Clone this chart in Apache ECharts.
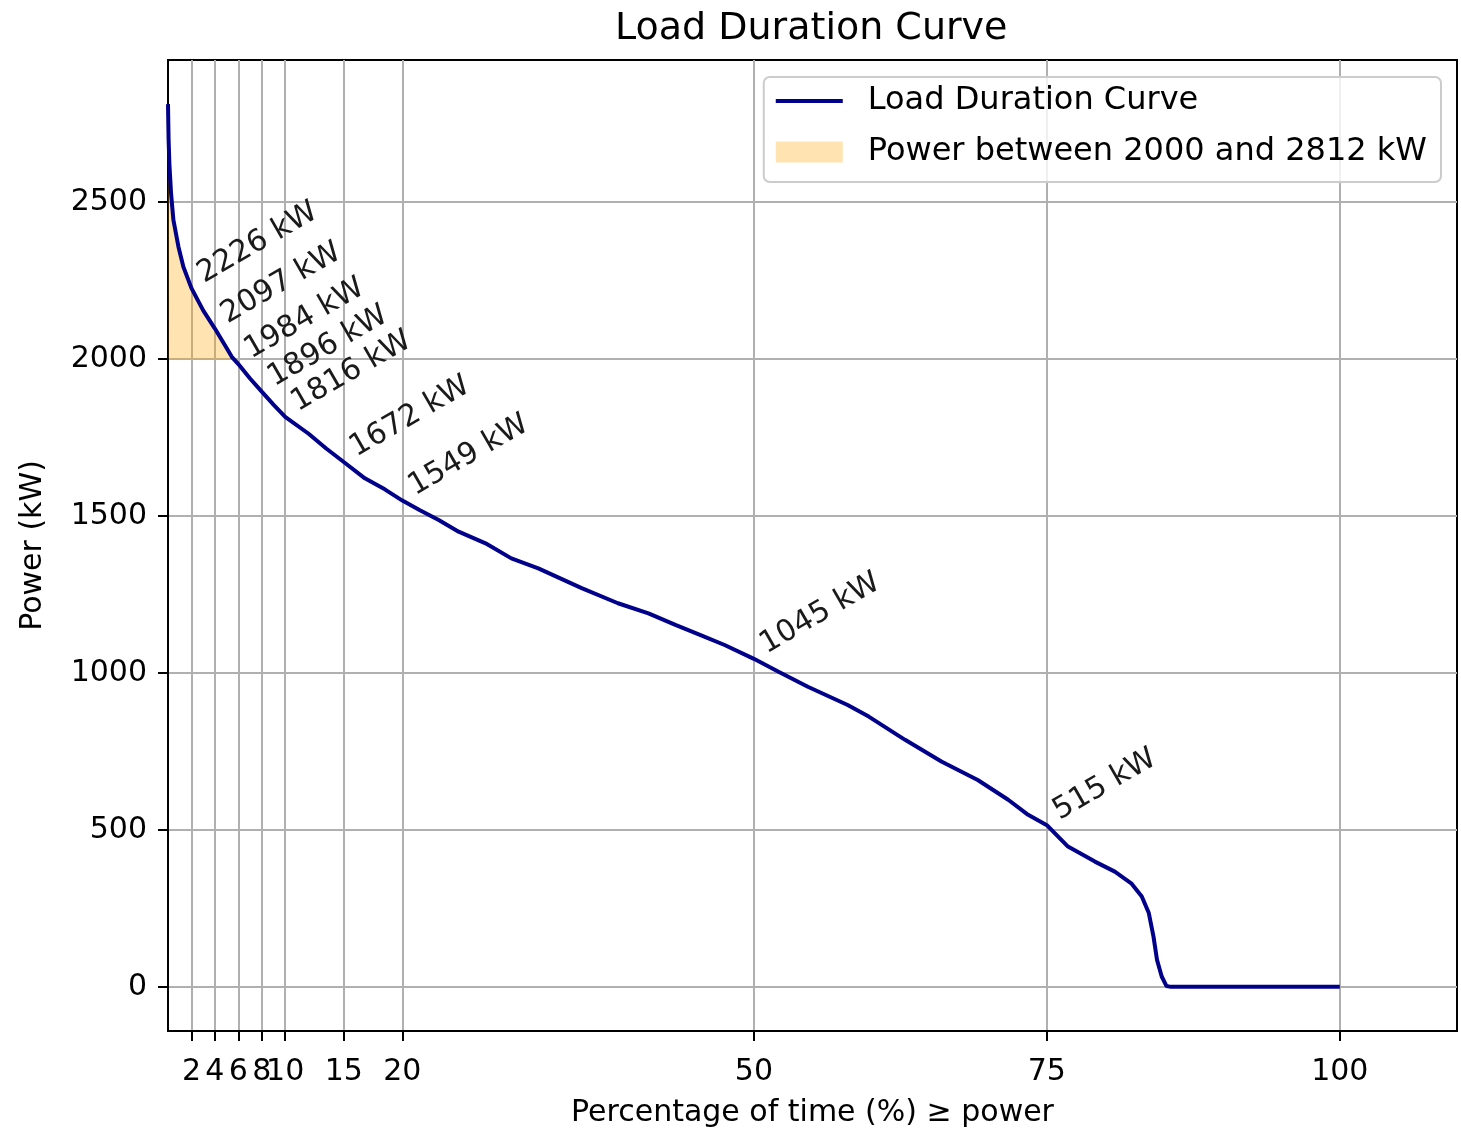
<!DOCTYPE html>
<html>
<head>
<meta charset="utf-8">
<title>Load Duration Curve</title>
<script src="https://cdn.jsdelivr.net/npm/echarts@6/dist/echarts.min.js"></script>
<style>
  html, body { margin: 0; padding: 0; background: #fff; }
  #main { width: 1461px; height: 1132px; }
</style>
</head>
<body>
<div id="main"></div>
<script>
// share of time (%) that the load is at or above the power value
const pctTime = [0, 0.05, 0.12, 0.26, 0.46, 0.89, 1.31, 2, 3, 4, 5, 5.44, 6, 7, 8, 9, 10, 12, 13.5, 15,
  16.8, 18.5, 20, 21.5, 23.1, 24.8, 27.1, 29.3, 31.6, 35.3, 38.4, 41, 43.3, 45.5, 47.5, 50, 52.1, 54.6, 58, 59.8,
  62.9, 66, 69.1, 71.7, 73.4, 75, 76.8, 79.1, 80.8, 82.2, 83.1, 83.7, 84.1, 84.4, 84.8, 85.2, 85.6, 100];
const powerKW = [2812, 2700, 2620, 2528, 2443, 2358, 2294, 2226, 2155, 2097, 2035, 2007, 1984, 1938, 1896, 1855, 1816, 1762, 1715, 1672,
  1620, 1585, 1549, 1518, 1487, 1450, 1413, 1365, 1333, 1270, 1222, 1190, 1153, 1120, 1089, 1045, 1004, 956, 898, 861,
  787, 718, 659, 596, 548, 515, 447, 399, 367, 330, 288, 235, 160, 86, 33, 3, 0, 0];

// annotated points
const annotPct = [2, 4, 6, 8, 10, 15, 20, 50, 75];
const annotKW = [2226, 2097, 1984, 1896, 1816, 1672, 1549, 1045, 515];

const xTicks = [2, 4, 6, 8, 10, 15, 20, 50, 75, 100];
const yTicks = [0, 500, 1000, 1500, 2000, 2500];

const fillLow = 2000;
const fillHigh = 2812;

const FONT = 'DejaVu Sans';
const curveName = 'Load Duration Curve';
const fillName = 'Power between ' + fillLow + ' and ' + fillHigh + ' kW';

let curveData = pctTime.map((x, i) => [x, powerKW[i]]);
let fillData = curveData.filter(p => p[1] >= fillLow);
let annotData = annotPct.map((x, i) => [x, annotKW[i]]);

let myChart = echarts.init(document.getElementById('main'), null, { renderer: 'canvas' });

myChart.setOption({
  animation: false,
  backgroundColor: '#fff',
  title: {
    text: 'Load Duration Curve',
    left: 615,
    top: 10,
    padding: 0,
    textStyle: { fontFamily: FONT, fontSize: 38, fontWeight: 'normal', color: '#000' }
  },
  legend: {
    orient: 'vertical',
    right: 20,
    top: 77,
    padding: [8, 14, 14, 10],
    itemGap: 19,
    itemWidth: 67,
    itemHeight: 21,
    backgroundColor: 'rgba(255,255,255,0.8)',
    borderColor: '#cccccc',
    borderWidth: 2,
    borderRadius: 6,
    textStyle: { fontFamily: FONT, fontSize: 32, color: '#000', lineHeight: 32, padding: [0, 0, 0, 20] },
    data: [
      { name: curveName, itemStyle: { opacity: 0 }, lineStyle: { width: 4 } },
      { name: fillName, icon: 'rect', itemStyle: { color: 'rgba(255,165,0,0.3)' } }
    ]
  },
  grid: {
    left: 168,
    right: 4,
    top: 60,
    bottom: 101,
    show: true,
    borderColor: '#000',
    borderWidth: 2,
    outerBoundsMode: 'none'
  },
  xAxis: {
    type: 'value',
    min: 0,
    max: 110,
    name: 'Percentage of time (%) ≥ power',
    nameLocation: 'middle',
    nameGap: 67,
    nameTextStyle: { fontFamily: FONT, fontSize: 30, color: '#000' },
    axisLine: { show: true, onZero: false, lineStyle: { color: '#000', width: 2 } },
    axisTick: { show: true, inside: false, length: 10, customValues: xTicks, lineStyle: { color: '#000', width: 2 } },
    axisLabel: { customValues: xTicks, margin: 26, fontFamily: FONT, fontSize: 30, color: '#000', hideOverlap: false,
      formatter: v => String(v) },
    splitLine: { show: true, lineStyle: { color: '#b0b0b0', width: 2 } }
  },
  yAxis: {
    type: 'value',
    min: -140.6,
    max: 2952.6,
    name: 'Power (kW)',
    nameLocation: 'middle',
    nameGap: 120,
    nameTextStyle: { fontFamily: FONT, fontSize: 30, color: '#000' },
    axisLine: { show: true, onZero: false, lineStyle: { color: '#000', width: 2 } },
    axisTick: { show: true, inside: false, length: 10, customValues: yTicks, lineStyle: { color: '#000', width: 2 } },
    axisLabel: { customValues: yTicks, margin: 21, fontFamily: FONT, fontSize: 30, color: '#000',
      formatter: v => String(v) },
    splitLine: { show: true, lineStyle: { color: '#b0b0b0', width: 2 } }
  },
  series: [
    {
      name: fillName,
      type: 'line',
      data: fillData,
      symbol: 'none',
      lineStyle: { width: 0 },
      itemStyle: { color: 'rgba(255,165,0,0.3)' },
      areaStyle: { origin: fillLow, color: 'rgba(255,165,0,0.3)', opacity: 1 },
      z: 1
    },
    {
      name: curveName,
      type: 'line',
      data: curveData,
      symbol: 'none',
      smooth: false,
      lineStyle: { color: '#00008b', width: 4 },
      itemStyle: { color: '#00008b' },
      z: 3
    },
    {
      name: 'annotations',
      type: 'scatter',
      data: annotData,
      symbolSize: 0,
      silent: true,
      z: 4,
      itemStyle: { opacity: 1 },
      label: {
        show: true,
        position: [0, 0],
        align: 'left',
        verticalAlign: 'bottom',
        rotate: 30,
        offset: [13.5, 9],
        fontFamily: FONT,
        fontSize: 30,
        color: '#1a1a1a',
        opacity: 1,
        formatter: p => p.value[1] + ' kW'
      }
    }
  ]
});
</script>
</body>
</html>
